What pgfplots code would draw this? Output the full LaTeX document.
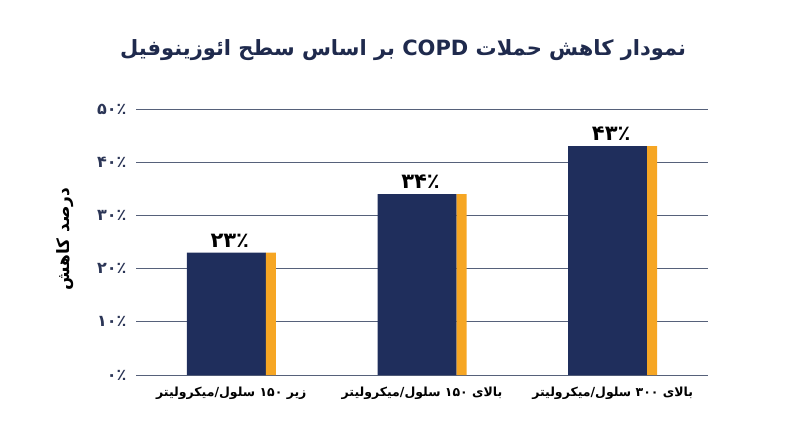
\documentclass[border=0pt]{standalone}
\usepackage{pgfplots}
\pgfplotsset{compat=1.18}
\usepackage{fontspec}
\setmainfont{DejaVu Sans}
\newfontfamily\fa[Script=Arabic]{DejaVu Sans}
\TeXXeTstate=1
\definecolor{navy}{HTML}{1F2E5C}
\definecolor{amber}{HTML}{F6A623}
\definecolor{gridc}{HTML}{56617A}
\definecolor{titlec}{HTML}{1F2A4D}
\definecolor{tickc}{HTML}{2B3556}

\begin{document}
\begin{tikzpicture}
\useasboundingbox (0,0) rectangle (800pt,447pt);
\begin{axis}[
    at={(136pt,72pt)}, anchor=south west,
    scale only axis,
    width=572pt, height=266pt,
    xmin=-0.5, xmax=2.5,
    ymin=0, ymax=50,
    axis line style={draw=none},
    ymajorgrids,
    grid style={gridc, line width=0.8pt},
    ytick={0,10,20,30,40,50},
    yticklabels={۰٪,۱۰٪,۲۰٪,۳۰٪,۴۰٪,۵۰٪},
    yticklabel style={font=\fa\bfseries\fontsize{16}{16}\selectfont, text=tickc, xshift=-6pt},
    xtick={0,1,2},
    xticklabels={
        {\beginR زیر ۱۵۰ سلول/میکرولیتر\endR},
        {\beginR بالای ۱۵۰ سلول/میکرولیتر\endR},
        {\beginR بالای ۳۰۰ سلول/میکرولیتر\endR}},
    xticklabel style={font=\fa\bfseries\fontsize{12.5}{12.5}\selectfont, text=black, yshift=-8pt},
    major tick length=0pt,
    title={\beginR نمودار کاهش حملات \beginL COPD\endL{} بر اساس سطح ائوزینوفیل\endR},
    title style={font=\fa\bfseries\fontsize{21}{21}\selectfont, text=titlec,
        at={(axis description cs:0.467,1.20)}, anchor=center},
    ylabel={\beginR درصد کاهش\endR},
    ylabel style={font=\fa\bfseries\fontsize{17}{17}\selectfont, text=black,
        at={(axis description cs:-0.124,0.51)}, anchor=center},
    clip=false,
]
\addplot[ybar, bar width=79pt, bar shift=-5pt, fill=navy, draw=none,
    point meta=explicit symbolic,
    nodes near coords,
    nodes near coords style={font=\fa\bfseries\fontsize{21}{21}\selectfont, text=black, xshift=-1.5pt, anchor=south, yshift=2pt}]
    coordinates {(0,23) [۲۳٪] (1,34) [۳۴٪] (2,43) [۴۳٪]};
\addplot[ybar, bar width=10pt, bar shift=39.5pt, fill=amber, draw=none]
    coordinates {(0,23) (1,34) (2,43)};
\end{axis}
\end{tikzpicture}
\end{document}
